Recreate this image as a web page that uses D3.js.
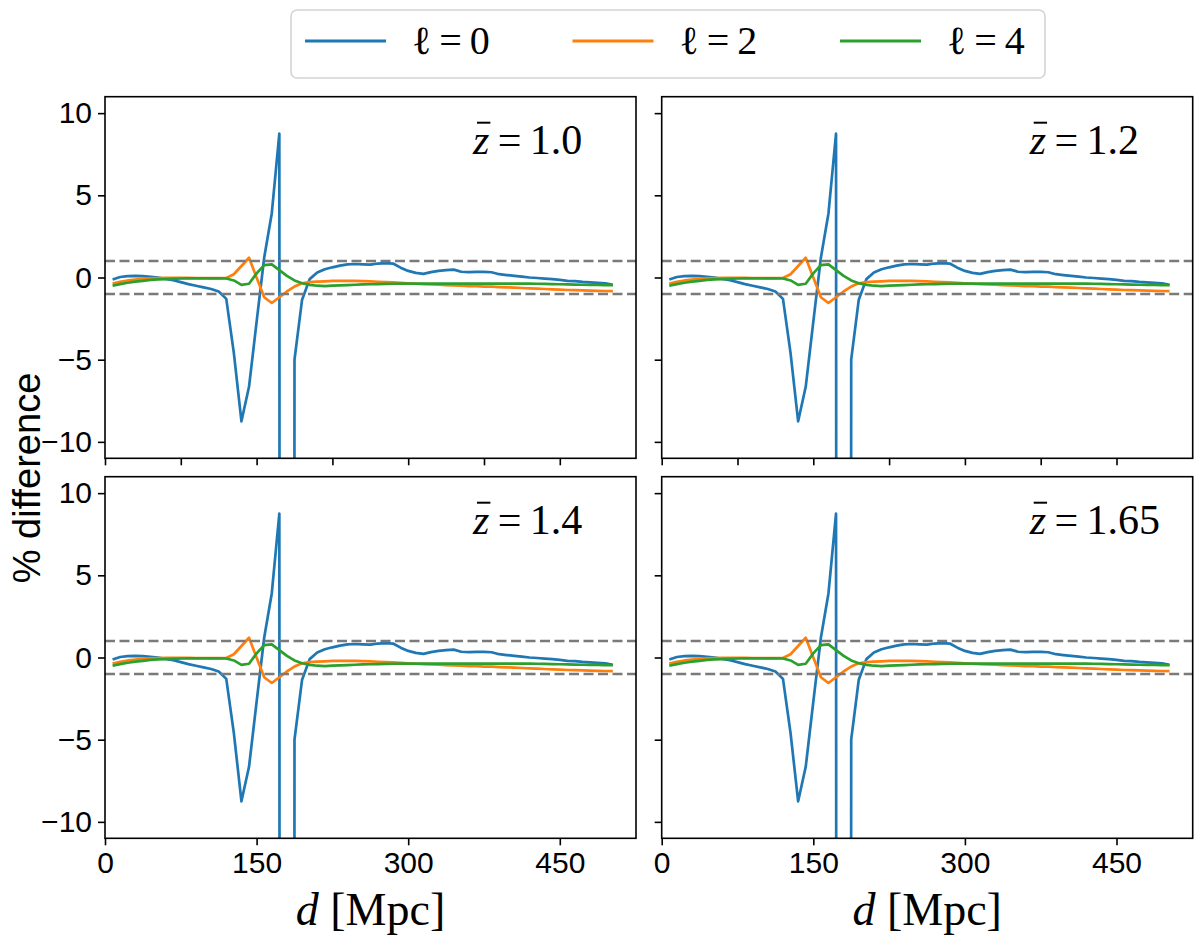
<!DOCTYPE html>
<html>
<head>
<meta charset="utf-8">
<script src="https://cdn.jsdelivr.net/npm/d3@7"></script>
<style>
  body { margin: 0; background: #fff; }
  svg { display: block; }
</style>
</head>
<body>
<script>

// separation d in Mpc, same grid for every multipole
var dist = [7.5, 15, 22.5, 30, 37.5, 45, 52.5, 60, 67.5, 75, 82.5, 90, 97.5, 105, 112.5, 120,
	127.5, 135, 142.5, 150, 157.5, 165, 172.5, 180, 187.5, 195,
	202.5, 210, 217.5, 225, 232.5, 240, 247.5, 255, 262.5, 270, 277.5, 285, 292.5, 300,
	307.5, 315, 322.5, 330, 337.5, 345, 352.5, 360, 367.5, 375, 382.5, 390, 397.5, 405,
	412.5, 420, 427.5, 435, 442.5, 450, 457.5, 465, 472.5, 480, 487.5, 495, 502.5]

// % difference, monopole (the point at 180 Mpc runs far off the axis)
var mono = [-0.12, 0.03, 0.08, 0.1, 0.08, 0.04, 0.0, -0.08, -0.17, -0.28, -0.4, -0.5, -0.6, -0.7, -0.85, -1.3,
	-4.6, -8.75, -6.65, -2.7, 1.2, 3.9, 8.75, -900, -5.0, -1.35,
	-0.1, 0.3, 0.5, 0.62, 0.72, 0.8, 0.82, 0.8, 0.78, 0.85, 0.88, 0.85, 0.6, 0.4,
	0.28, 0.22, 0.33, 0.4, 0.45, 0.48, 0.35, 0.33, 0.34, 0.34, 0.32, 0.2, 0.15, 0.1,
	0.05, 0.0, -0.03, -0.07, -0.1, -0.15, -0.2, -0.22, -0.27, -0.3, -0.33, -0.35, -0.45]

// quadrupole
var quad = [-0.37, -0.27, -0.18, -0.12, -0.08, -0.05, -0.03, -0.02, -0.02, -0.02, -0.02, -0.03, -0.03, -0.04, -0.04, -0.03,
	0.2, 0.7, 1.2, 0.0, -1.2, -1.55, -1.2, -0.85, -0.55, -0.35,
	-0.28, -0.25, -0.23, -0.21, -0.2, -0.2, -0.2, -0.22, -0.24, -0.26, -0.28, -0.3, -0.33, -0.36,
	-0.38, -0.4, -0.42, -0.44, -0.46, -0.48, -0.5, -0.52, -0.53, -0.55, -0.56, -0.58, -0.6, -0.62,
	-0.64, -0.66, -0.68, -0.7, -0.72, -0.74, -0.76, -0.77, -0.78, -0.8, -0.81, -0.82, -0.83]

// hexadecapole
var hexa = [-0.5, -0.4, -0.32, -0.25, -0.2, -0.15, -0.12, -0.1, -0.08, -0.06, -0.05, -0.05, -0.05, -0.05, -0.05, -0.06,
	-0.18, -0.45, -0.38, 0.25, 0.75, 0.8, 0.45, 0.1, -0.18, -0.35,
	-0.45, -0.5, -0.52, -0.5, -0.48, -0.46, -0.44, -0.42, -0.41, -0.4, -0.39, -0.38, -0.37, -0.37,
	-0.37, -0.37, -0.37, -0.37, -0.37, -0.37, -0.37, -0.37, -0.37, -0.37, -0.37, -0.37, -0.37, -0.37,
	-0.37, -0.37, -0.38, -0.39, -0.4, -0.41, -0.42, -0.43, -0.44, -0.45, -0.45, -0.46, -0.47]

var multipoles = ["0", "2", "4"]
var seriesColors = ["#1f77b4", "#ff7f0e", "#2ca02c"]
var redshifts = ["1.0", "1.2", "1.4", "1.65"]
var yTicks = [-10, -5, 0, 5, 10]
var xTicksTop = [0, 75, 150, 225, 300, 375, 450]
var xTicksBottom = [0, 150, 300, 450]
var bandLevels = [1, -1]

var W = 1200, H = 938
var colLeft = [105, 661.7], rowTop = [96.7, 476.7]
var pw = 531, ph = 361.6

var svg = d3.select("body").append("svg")
	.attr("width", W)
	.attr("height", H)

var x = d3.scaleLinear().domain([0, 525.4]).range([0, pw])
var y = d3.scaleLinear().domain([-11, 11]).range([ph, 0])

var allSeries = [mono, quad, hexa]

svg.append("defs").append("clipPath").attr("id", "plotclip")
	.append("rect").attr("width", pw).attr("height", ph)

var line = d3.line()
	.x(function(d, i){ return x(dist[i]) })
	.y(function(d){ return y(d) })

redshifts.forEach(function(zb, k){
	var row = Math.floor(k / 2), col = k % 2
	var g = svg.append("g")
		.attr("transform", "translate(" + colLeft[col] + "," + rowTop[row] + ")")

	var plot = g.append("g").attr("clip-path", "url(#plotclip)")

	plot.selectAll("path.curve")
		.data(allSeries)
		.enter()
		.append("path")
		.attr("class", "curve")
		.attr("d", line)
		.style("fill", "none")
		.style("stroke", function(d, i){ return seriesColors[i] })
		.style("stroke-width", 2.7)
		.style("stroke-linejoin", "round")

	plot.selectAll("line.band")
		.data(bandLevels)
		.enter()
		.append("line")
		.attr("class", "band")
		.attr("x1", 0).attr("x2", pw)
		.attr("y1", function(d){ return y(d) })
		.attr("y2", function(d){ return y(d) })
		.style("stroke", "#7a7a7a")
		.style("stroke-width", 2.6)
		.style("stroke-dasharray", "10,4.5")

	// axes
	var yAxis = d3.axisLeft(y).tickValues(yTicks).tickSize(7).tickPadding(6)
		.tickFormat(function(d){ return col == 0 ? (d < 0 ? "\u2212" + (-d) : d) : "" })
	var xAxis = d3.axisBottom(x).tickValues(row == 0 ? xTicksTop : xTicksBottom)
		.tickSize(7).tickPadding(6)
		.tickFormat(function(d){ return row == 1 ? d : "" })

	var ya = g.append("g").call(yAxis)
	var xa = g.append("g").attr("transform", "translate(0," + ph + ")").call(xAxis)
	;[ya, xa].forEach(function(a){
		a.select(".domain").remove()
		a.selectAll("line").style("stroke", "#000").style("stroke-width", 1.6)
		a.selectAll("text")
			.style("font-family", "'Liberation Sans', Arial, sans-serif")
			.style("font-size", "30px")
			.style("fill", "#000")
	})

	g.append("rect")
		.attr("width", pw).attr("height", ph)
		.style("fill", "none")
		.style("stroke", "#000")
		.style("stroke-width", 1.6)

	// panel label  z-bar = value
	var lab = g.append("text")
		.attr("x", 368).attr("y", 57)
		.style("font-family", "'Liberation Serif', 'DejaVu Serif', serif")
		.style("font-size", "42px")
	lab.append("tspan").style("font-style", "italic").text("z")
	lab.append("tspan").text("\u2009=\u2009" + zb)
	var ext = lab.node().getExtentOfChar(0)
	g.append("line")
		.attr("x1", ext.x + 4).attr("x2", ext.x + ext.width + 1)
		.attr("y1", 57 - 31).attr("y2", 57 - 31)
		.style("stroke", "#000").style("stroke-width", 2)

	if (row == 1) {
		var xl = g.append("text")
			.attr("x", pw / 2).attr("y", 448)
			.attr("text-anchor", "middle")
			.style("font-family", "'Liberation Serif', 'DejaVu Serif', serif")
			.style("font-size", "46px")
		xl.append("tspan").style("font-style", "italic").text("d")
		xl.append("tspan").text(" [Mpc]")
	}
})

// y label
svg.append("text")
	.attr("transform", "translate(40,478) rotate(-90)")
	.attr("text-anchor", "middle")
	.style("font-family", "'Liberation Sans', Arial, sans-serif")
	.style("font-size", "38px")
	.text("% difference")

// legend
var leg = svg.append("g")
leg.append("rect")
	.attr("x", 291).attr("y", 10).attr("width", 754).attr("height", 68)
	.attr("rx", 6)
	.style("fill", "#fff")
	.style("stroke", "#d4d4d4")
	.style("stroke-width", 1.6)

var legItem = leg.selectAll("g.item")
	.data(multipoles)
	.enter()
	.append("g")
	.attr("class", "item")
	.attr("transform", function(d, i){ return "translate(" + (305 + i * 267.5) + ",0)" })

legItem.append("line")
	.attr("x1", 0).attr("x2", 81)
	.attr("y1", 41).attr("y2", 41)
	.style("stroke", function(d, i){ return seriesColors[i] })
	.style("stroke-width", 2.8)

legItem.append("text")
	.attr("x", 107).attr("y", 54)
	.style("font-family", "'Liberation Serif', 'DejaVu Serif', serif")
	.style("font-size", "40px")
	.text(function(d){ return "\u2113\u2009=\u2009" + d })

</script>
</body>
</html>
